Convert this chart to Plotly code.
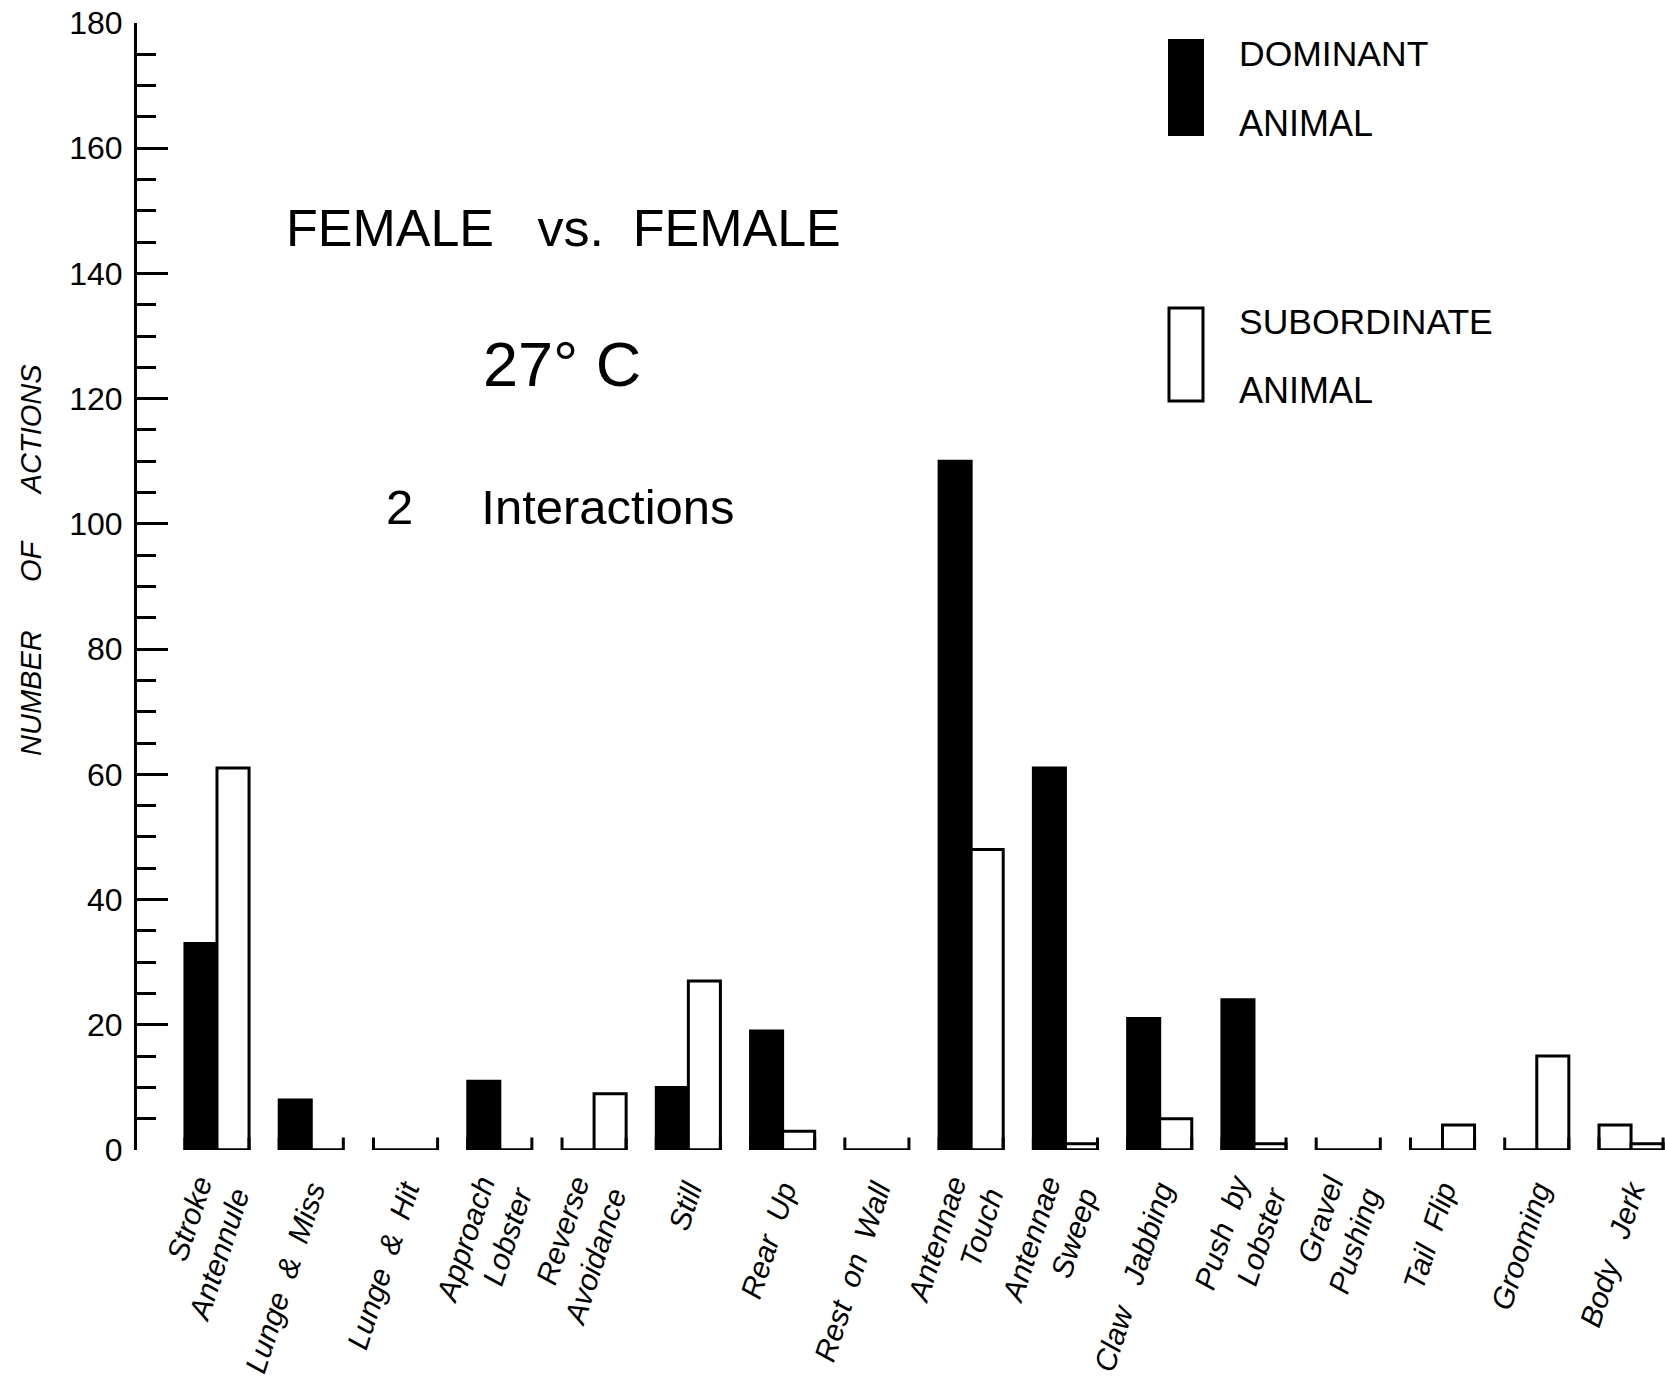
import plotly.graph_objects as go

# Behaviour categories and action counts (2 interactions, 27 °C)
behaviours = [
    "Stroke<br>Antennule", "Lunge  &  Miss", "Lunge  &  Hit", "Approach<br>Lobster",
    "Reverse<br>Avoidance", "Still", "Rear  Up", "Rest  on  Wall",
    "Antennae<br>Touch", "Antennae<br>Sweep", "Claw   Jabbing", "Push  by<br>Lobster",
    "Gravel<br>Pushing", "Tail  Flip", "Grooming", "Body   Jerk",
]
dominant = [33, 8, 0, 11, 0, 10, 19, 0, 110, 61, 21, 24, 0, 0, 0, 4]
subordinate = [61, 0, 0, 0, 9, 27, 3, 0, 48, 1, 5, 1, 0, 4, 15, 1]

y_ticks = list(range(0, 181, 20))

NB = "\u00a0"
FONT = "Liberation Sans"
n = len(behaviours)
xs = list(range(n))
labels = [b.replace(" ", NB) for b in behaviours]

# geometry of the plotting area (pixels)
W, H = 1665, 1381
ML, MR, MT, MB = 137, 0, 23, 231
PW, PH = W - ML - MR, H - MT - MB


def px(x):
    return (x - ML) / PW


def py(y):
    return (H - MB - y) / PH


bar_w = 0.34
bargap = 1 - 2 * bar_w

# open bracket under every behaviour group (shows empty groups too)
stub = 2
bx, by = [], []
for i in xs:
    bx += [i - bar_w, i - bar_w, i + bar_w, i + bar_w, None]
    by += [stub, 0, 0, stub, None]

dom_fill = ["black"] * (n - 1) + ["white"]

fig = go.Figure()
fig.add_trace(go.Scatter(
    x=bx, y=by, mode="lines", line=dict(color="black", width=3),
    cliponaxis=False, showlegend=False, hoverinfo="skip",
))
fig.add_trace(go.Bar(
    x=xs, y=dominant, name="DOMINANT ANIMAL",
    marker=dict(color=dom_fill, line=dict(color="black", width=3)),
    cliponaxis=False, showlegend=False,
))
fig.add_trace(go.Bar(
    x=xs, y=subordinate, name="SUBORDINATE ANIMAL",
    marker=dict(color="white", line=dict(color="black", width=3)),
    cliponaxis=False, showlegend=False,
))

x_lo = -(217 - ML) / 94.27
x_hi = (W - MR - 217) / 94.27

fig.update_layout(
    width=W, height=H,
    margin=dict(l=ML, r=MR, t=MT, b=MB, pad=0),
    paper_bgcolor="white", plot_bgcolor="white",
    barmode="group", bargap=bargap, bargroupgap=0,
    font=dict(family=FONT, color="black"),
    xaxis=dict(
        range=[x_lo, x_hi], tickmode="array", tickvals=xs, ticktext=labels,
        tickangle=-72, ticks="", showline=False, showgrid=False, zeroline=False,
        tickfont=dict(family=FONT, size=30, style="italic", color="black"),
        ticklabelstandoff=16,
    ),
    yaxis=dict(
        range=[0, 180], tickmode="array", tickvals=y_ticks,
        ticks="inside", ticklen=31, tickwidth=3, tickcolor="black",
        showline=True, linewidth=3, linecolor="black",
        showgrid=False, zeroline=False,
        minor=dict(ticks="inside", ticklen=19, tickwidth=3, tickcolor="black",
                   dtick=5, showgrid=False),
        tickfont=dict(family=FONT, size=32, color="black"),
        ticklabelstandoff=5,
    ),
)

annotations = [
    dict(text="NUMBER" + NB * 6 + "OF" + NB * 6 + "ACTIONS", textangle=-90,
         x=px(31), y=py(560), font=dict(size=29, style="italic")),
    dict(text="FEMALE" + NB * 3 + "vs." + NB * 2 + "FEMALE",
         x=px(563), y=py(228), font=dict(size=52)),
    dict(text="27°" + NB + "C", x=px(562), y=py(364), font=dict(size=63)),
    dict(text="2" + NB * 5 + "Interactions", x=px(560), y=py(507), font=dict(size=49)),
    dict(text="DOMINANT", x=px(1237), y=py(54), xanchor="left", font=dict(size=35.5)),
    dict(text="ANIMAL", x=px(1237), y=py(123), xanchor="left", font=dict(size=36)),
    dict(text="SUBORDINATE", x=px(1237), y=py(322), xanchor="left", font=dict(size=35.5)),
    dict(text="ANIMAL", x=px(1237), y=py(390), xanchor="left", font=dict(size=36)),
]
for a in annotations:
    a.setdefault("xanchor", "center")
    a.update(xref="paper", yref="paper", yanchor="middle", showarrow=False)
    a["font"] = dict(family=FONT, color="black", **a["font"])
fig.update_layout(annotations=annotations)

# legend swatches
fig.add_shape(type="rect", xref="paper", yref="paper",
              x0=px(1169), x1=px(1203), y0=py(135), y1=py(40),
              fillcolor="black", line=dict(color="black", width=2))
fig.add_shape(type="rect", xref="paper", yref="paper",
              x0=px(1169), x1=px(1203), y0=py(401), y1=py(308),
              fillcolor="white", line=dict(color="black", width=3))

fig.write_html("out.html")
